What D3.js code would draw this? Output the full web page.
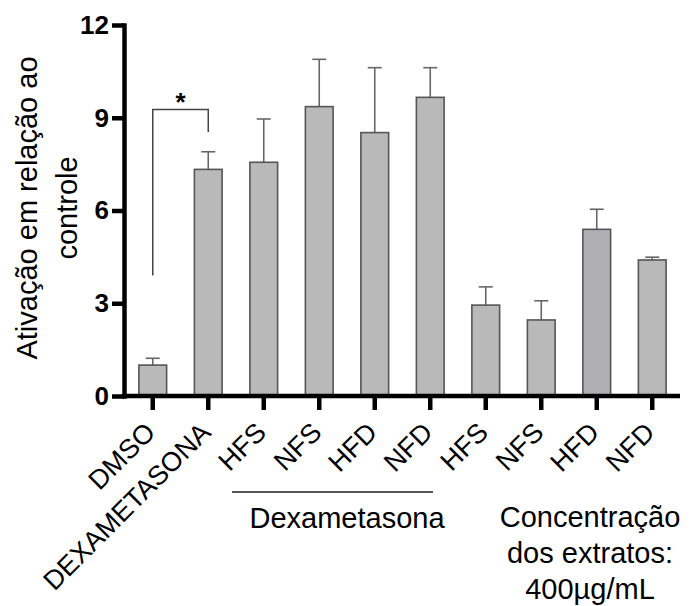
<!DOCTYPE html>
<html>
<head>
<meta charset="utf-8">
<script src="https://d3js.org/d3.v7.min.js"></script>
<title>Ativacao em relacao ao controle</title>
</head>
<style>
body {
  margin: 0;
  background: #fff;
}
svg {
  display: block;
  font-family: "Liberation Sans", Arial, Helvetica, sans-serif;
}
</style>
<body>
<svg width="691" height="606"></svg>
</body>
<script>

// data
let labels = ["DMSO", "DEXAMETASONA", "HFS", "NFS", "HFD", "NFD", "HFS", "NFS", "HFD", "NFD"];
let means = [1.0, 7.33, 7.56, 9.36, 8.52, 9.66, 2.94, 2.46, 5.39, 4.40];
let errors = [0.22, 0.57, 1.40, 1.53, 2.10, 0.96, 0.59, 0.62, 0.65, 0.09];
let fills = ["#b9b9b9", "#b9b9b9", "#b9b9b9", "#b9b9b9", "#b9b9b9", "#b9b9b9", "#b9b9b9", "#b9b9b9", "#b0b0b4", "#b9b9b9"];
let yTicks = [0, 3, 6, 9, 12];

let svg = d3.select("svg");
let idx = d3.range(labels.length);

let x = d3.scaleBand()
  .domain(idx)
  .range([125, 680])
  .paddingInner(0.5)
  .paddingOuter(0.25);

let y = d3.scaleLinear()
  .domain([0, 12])
  .range([396, 25]);

// error bars (upper only)
let eb = svg.append("g");
idx.forEach(function(i) {
  let cx = x(i) + x.bandwidth() / 2;
  eb.append("line")
    .attr("x1", cx).attr("x2", cx)
    .attr("y1", y(means[i])).attr("y2", y(means[i] + errors[i]))
    .attr("stroke", "#666").attr("stroke-width", 1.6);
  eb.append("line")
    .attr("x1", cx - 7).attr("x2", cx + 7)
    .attr("y1", y(means[i] + errors[i])).attr("y2", y(means[i] + errors[i]))
    .attr("stroke", "#666").attr("stroke-width", 1.6);
});

// bars
svg.append("g").selectAll("rect")
  .data(idx)
  .enter().append("rect")
  .attr("x", d => x(d))
  .attr("y", d => y(means[d]))
  .attr("width", x.bandwidth())
  .attr("height", d => y(0) - y(means[d]))
  .attr("fill", d => fills[d])
  .attr("stroke", "#555")
  .attr("stroke-width", 1.6);

// axes
let yAxis = svg.append("g")
  .attr("transform", "translate(124,0)")
  .call(d3.axisLeft(y).tickValues(yTicks).tickSize(12).tickSizeOuter(0).tickPadding(3));
yAxis.select(".domain").attr("stroke-width", 4.5).attr("stroke-linecap", "square");
yAxis.selectAll(".tick line").attr("stroke-width", 4.5);
yAxis.selectAll(".tick text")
  .attr("font-family", "Liberation Sans, Arial, sans-serif")
  .attr("font-size", 26)
  .attr("font-weight", "bold")
  .attr("fill", "#000");

let xAxis = svg.append("g")
  .attr("transform", "translate(0,396)")
  .call(d3.axisBottom(x).tickSize(14).tickSizeOuter(0).tickFormat(""));
xAxis.select(".domain").attr("stroke-width", 4.5).attr("d", "M122,0H680");
xAxis.selectAll(".tick line").attr("stroke-width", 4.5);

// rotated category labels
svg.append("g").selectAll("text")
  .data(idx)
  .enter().append("text")
  .attr("transform", d => "translate(" + (x(d) + x.bandwidth() / 2 + 4) + ",434) rotate(-45)")
  .attr("text-anchor", "end")
  .attr("font-size", 27)
  .attr("fill", "#000")
  .text(d => labels[d]);

// y axis title
let yTitle = svg.append("text")
  .attr("transform", "translate(37,208) rotate(-90)")
  .attr("text-anchor", "middle")
  .attr("font-size", 29)
  .attr("fill", "#000");
yTitle.append("tspan").attr("x", 0).attr("dy", 0).text("Ativação em relação ao");
yTitle.append("tspan").attr("x", 0).attr("dy", 40).text("controle");

// significance bracket DMSO vs DEXAMETASONA
let c0 = x(0) + x.bandwidth() / 2;
let c1 = x(1) + x.bandwidth() / 2;
svg.append("path")
  .attr("d", "M" + c0 + "," + y(3.9) + "V" + y(9.27) + "H" + c1 + "V" + y(8.54))
  .attr("fill", "none")
  .attr("stroke", "#444")
  .attr("stroke-width", 1.5);
svg.append("text")
  .attr("x", (c0 + c1) / 2)
  .attr("y", 111)
  .attr("text-anchor", "middle")
  .attr("font-size", 26)
  .attr("font-weight", "bold")
  .text("*");

// group line and captions
svg.append("line")
  .attr("x1", 232).attr("x2", 433)
  .attr("y1", 492).attr("y2", 492)
  .attr("stroke", "#555").attr("stroke-width", 2);

svg.append("text")
  .attr("x", (x(2) + x(5) + x.bandwidth()) / 2)
  .attr("y", 528)
  .attr("text-anchor", "middle")
  .attr("font-size", 29)
  .text("Dexametasona");

let conc = svg.append("text")
  .attr("text-anchor", "middle")
  .attr("font-size", 29);
["Concentração", "dos extratos:", "400µg/mL"].forEach(function(t, k) {
  conc.append("tspan").attr("x", 590).attr("y", 527 + k * 36).text(t);
});

</script>
</html>
